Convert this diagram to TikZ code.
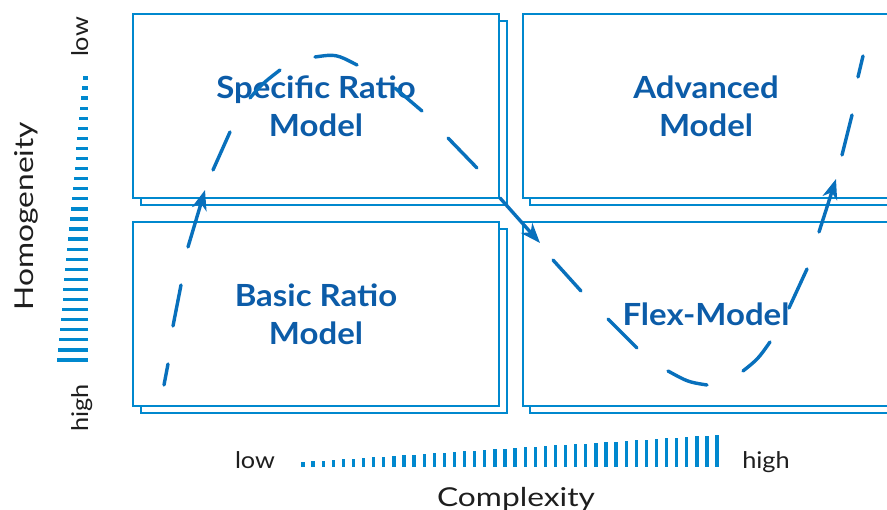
\documentclass[tikz,border=0pt]{standalone}
\usepackage{fontspec}
\setmainfont{Lato}
\newfontfamily\labelfont[FakeStretch=1.08]{Lato}
\newfontfamily\titlefont[FakeStretch=1.22]{Lato}
\newfontfamily\endfont[FakeStretch=1.1]{Lato}
\usetikzlibrary{arrows.meta}
\definecolor{framecol}{RGB}{0,136,206}
\definecolor{labelcol}{RGB}{12,92,168}
\definecolor{pathcol}{RGB}{8,112,188}
\definecolor{axiscol}{RGB}{30,30,30}

\begin{document}
\begin{tikzpicture}[x=1pt,y=-1pt,
  backbox/.style={draw=framecol, line width=2.6pt, minimum width=366pt,
    minimum height=184pt, inner sep=0pt, outer sep=0pt},
  frontbox/.style={backbox, fill=white, text=labelcol,
    font=\labelfont\fontsize{30.5}{38}\selectfont\bfseries, align=center},
  flow/.style={draw=pathcol, line width=3.4pt, line cap=round},
  flowarrow/.style={flow, -{Stealth[length=20pt,width=15pt,inset=6pt]}},
  tick/.style={draw=framecol, line width=3.3pt},
  axistitle/.style={text=axiscol, font=\titlefont\fontsize{26}{30}\selectfont, inner sep=0pt},
  axisend/.style={text=axiscol, font=\endfont\fontsize{23}{28}\selectfont, inner sep=0pt}]

\useasboundingbox (0,0) rectangle (887,510);
\clip (0,0) rectangle (887,510);

% quadrant boxes: a shifted copy behind each framed box
\node[backbox] (tlback) at (324,113) {};
\node[frontbox] (tl) at (316,106) {Specific Ratio\\Model};
\node[backbox] (blback) at (324,321) {};
\node[frontbox] (bl) at (316,314) {Basic Ratio\\Model};
\node[backbox] (trback) at (713,113) {};
\node[frontbox] (tr) at (706,106) {Advanced\\Model};
\node[backbox] (brback) at (713,321) {};
\node[frontbox] (br) at (706,314) {Flex-Model};

% homogeneity scale (vertical, ticks grow downwards)
\foreach \i in {0,...,28}{
  \draw[tick] (88,{78+10.07*\i}) -- ({88-5-0.93*\i},{78+10.07*\i});
}
% complexity scale (horizontal, ticks grow to the right)
\foreach \i in {0,...,41}{
  \draw[tick] ({303+10.1*\i},467) -- ({303+10.1*\i},{467-5-0.66*\i});
}

% axis texts
\node[axistitle, rotate=90, anchor=base] (homog) at (33,216) {Homogeneity};
\node[axisend, rotate=90, anchor=base] (vlow) at (88,37) {low};
\node[axisend, rotate=90, anchor=base] (vhigh) at (88,408) {high};
\node[axisend, anchor=base] (hlow) at (255,469) {low};
\node[axisend, anchor=base] (hhigh) at (766,469) {high};
\node[axistitle, anchor=base] (cplx) at (516,507) {Complexity};

% dashed development path through the quadrants
\draw[flow] (164,385) -- (168,364);
\draw[flow] (173,326) -- (181,285);
\draw[flowarrow] (188,247) -- (205,190);
\draw[flow] (213,170) -- (230,132);
\draw[flow] (250,98) .. controls (262,84) .. (280,70);
\draw[flow] (315,57) .. controls (336,54) .. (357,65);
\draw[flow] (395,88) -- (422,111);
\draw[flow] (448,138) -- (477,168);
\draw[flowarrow] (500,198) -- (540,243);
\draw[flow] (553,260) -- (581,291);
\draw[flow] (608,319) -- (637,348);
\draw[flow] (668,371) .. controls (688,382) .. (707,385);
\draw[flow] (743,371) .. controls (758,359) .. (770,342);
\draw[flow] (789,308) -- (807,269);
\draw[flowarrow] (819,232) -- (836,179);
\draw[flow] (842,155) -- (852,115);
\draw[flow] (858,77) -- (863,56);
\end{tikzpicture}
\end{document}
